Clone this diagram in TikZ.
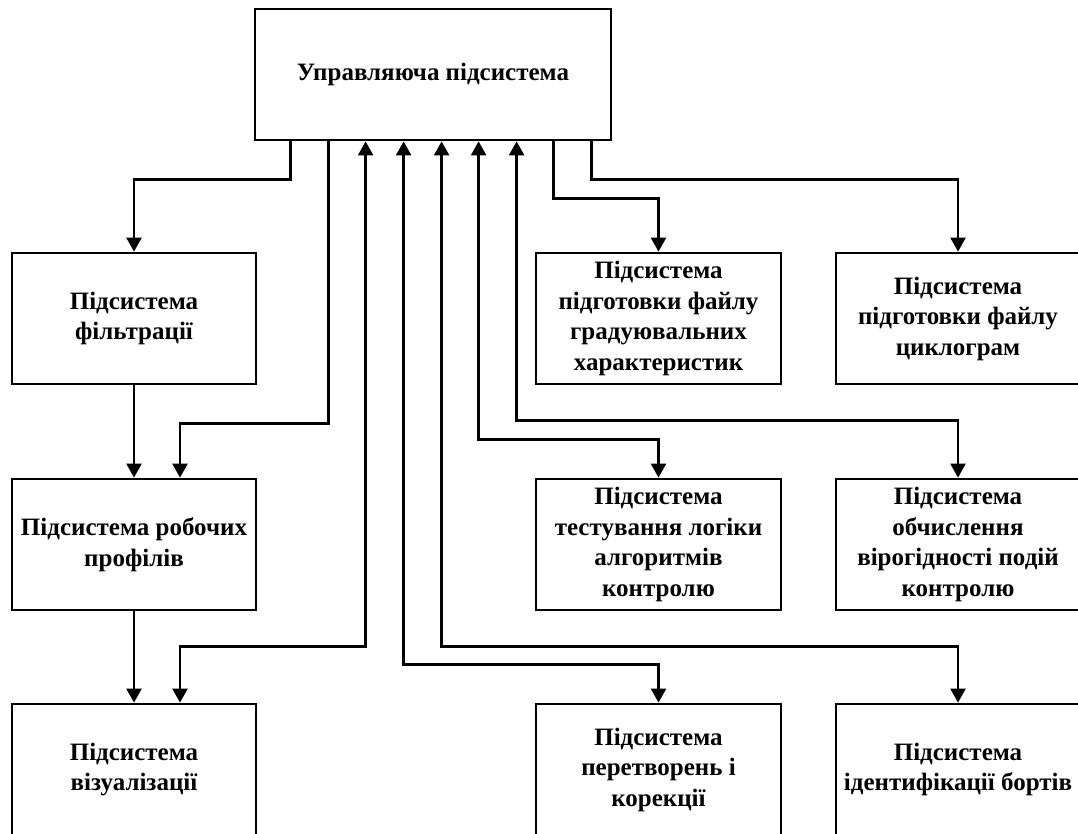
\documentclass[tikz,border=0pt]{standalone}
\usepackage{fontspec}
\setmainfont{Liberation Serif}
\usetikzlibrary{arrows.meta}
\begin{document}
\begin{tikzpicture}[x=1pt,y=-1pt,
  block/.style={draw, line width=2.8pt, rectangle, align=center, inner sep=0pt,
    font=\fontsize{25}{30.5}\selectfont\bfseries, fill=white},
  colbox/.style={block, minimum width=244pt, minimum height=131pt},
  link/.style={line width=2.4pt, -{Triangle[length=14pt,width=15pt]}},
  duplex/.style={line width=2.4pt, {Triangle[length=14pt,width=15pt]}-{Triangle[length=14pt,width=15pt]}}
]
\useasboundingbox (0,0) rectangle (1078,833);
\clip (0,0) rectangle (1078,833);
\fill[white] (0,0) rectangle (1078,833);

% control block
\node[block, minimum width=356pt, minimum height=131pt] (top) at (433,74.5) {Управляюча підсистема};

% left column
\node[colbox] (filter) at (134,318.5) {Підсистема\\фільтрації};
\node[colbox] (prof)   at (134,544.5) {Підсистема робочих\\профілів};
\node[colbox] (vis)    at (134,769.5) {Підсистема\\візуалізації};

% middle column
\node[colbox, minimum width=245pt] (gr)   at (658.5,318.5) {Підсистема\\підготовки файлу\\градуювальних\\характеристик};
\node[colbox, minimum width=245pt] (test) at (658.5,544.5) {Підсистема\\тестування логіки\\алгоритмів\\контролю};
\node[colbox, minimum width=245pt] (tr)   at (658.5,769.5) {Підсистема\\перетворень і\\корекції};

% right column
\node[colbox] (cy)   at (958,318.5) {Підсистема\\підготовки файлу\\циклограм};
\node[colbox] (prob) at (958,544.5) {Підсистема\\обчислення\\вірогідності подій\\контролю};
\node[colbox] (id)   at (958,769.5) {Підсистема\\ідентифікації бортів};

% one-way links from the control block
\draw[link] ([xshift=37pt]top.south west) -- ++(0,38) -| (filter.north);
\draw[link] ([xshift=75pt]top.south west) -- ++(0,282) -| ([xshift=46pt]prof.north);
\draw[link] ([xshift=300pt]top.south west) -- ++(0,57) -| (gr.north);
\draw[link] ([xshift=338pt]top.south west) -- ++(0,38) -| (cy.north);

% two-way links
\draw[duplex] ([xshift=46pt]vis.north) -- ++(0,-56) -| ([xshift=112pt]top.south west);
\draw[duplex] (tr.north) -- ++(0,-38) -| ([xshift=150pt]top.south west);
\draw[duplex] (id.north) -- ++(0,-56) -| ([xshift=188pt]top.south west);
\draw[duplex] (test.north) -- ++(0,-38) -| ([xshift=225pt]top.south west);
\draw[duplex] (prob.north) -- ++(0,-57) -| ([xshift=263pt]top.south west);

% chain down the left column
\draw[link] (filter.south) -- (prof.north);
\draw[link] (prof.south) -- (vis.north);
\end{tikzpicture}
\end{document}
